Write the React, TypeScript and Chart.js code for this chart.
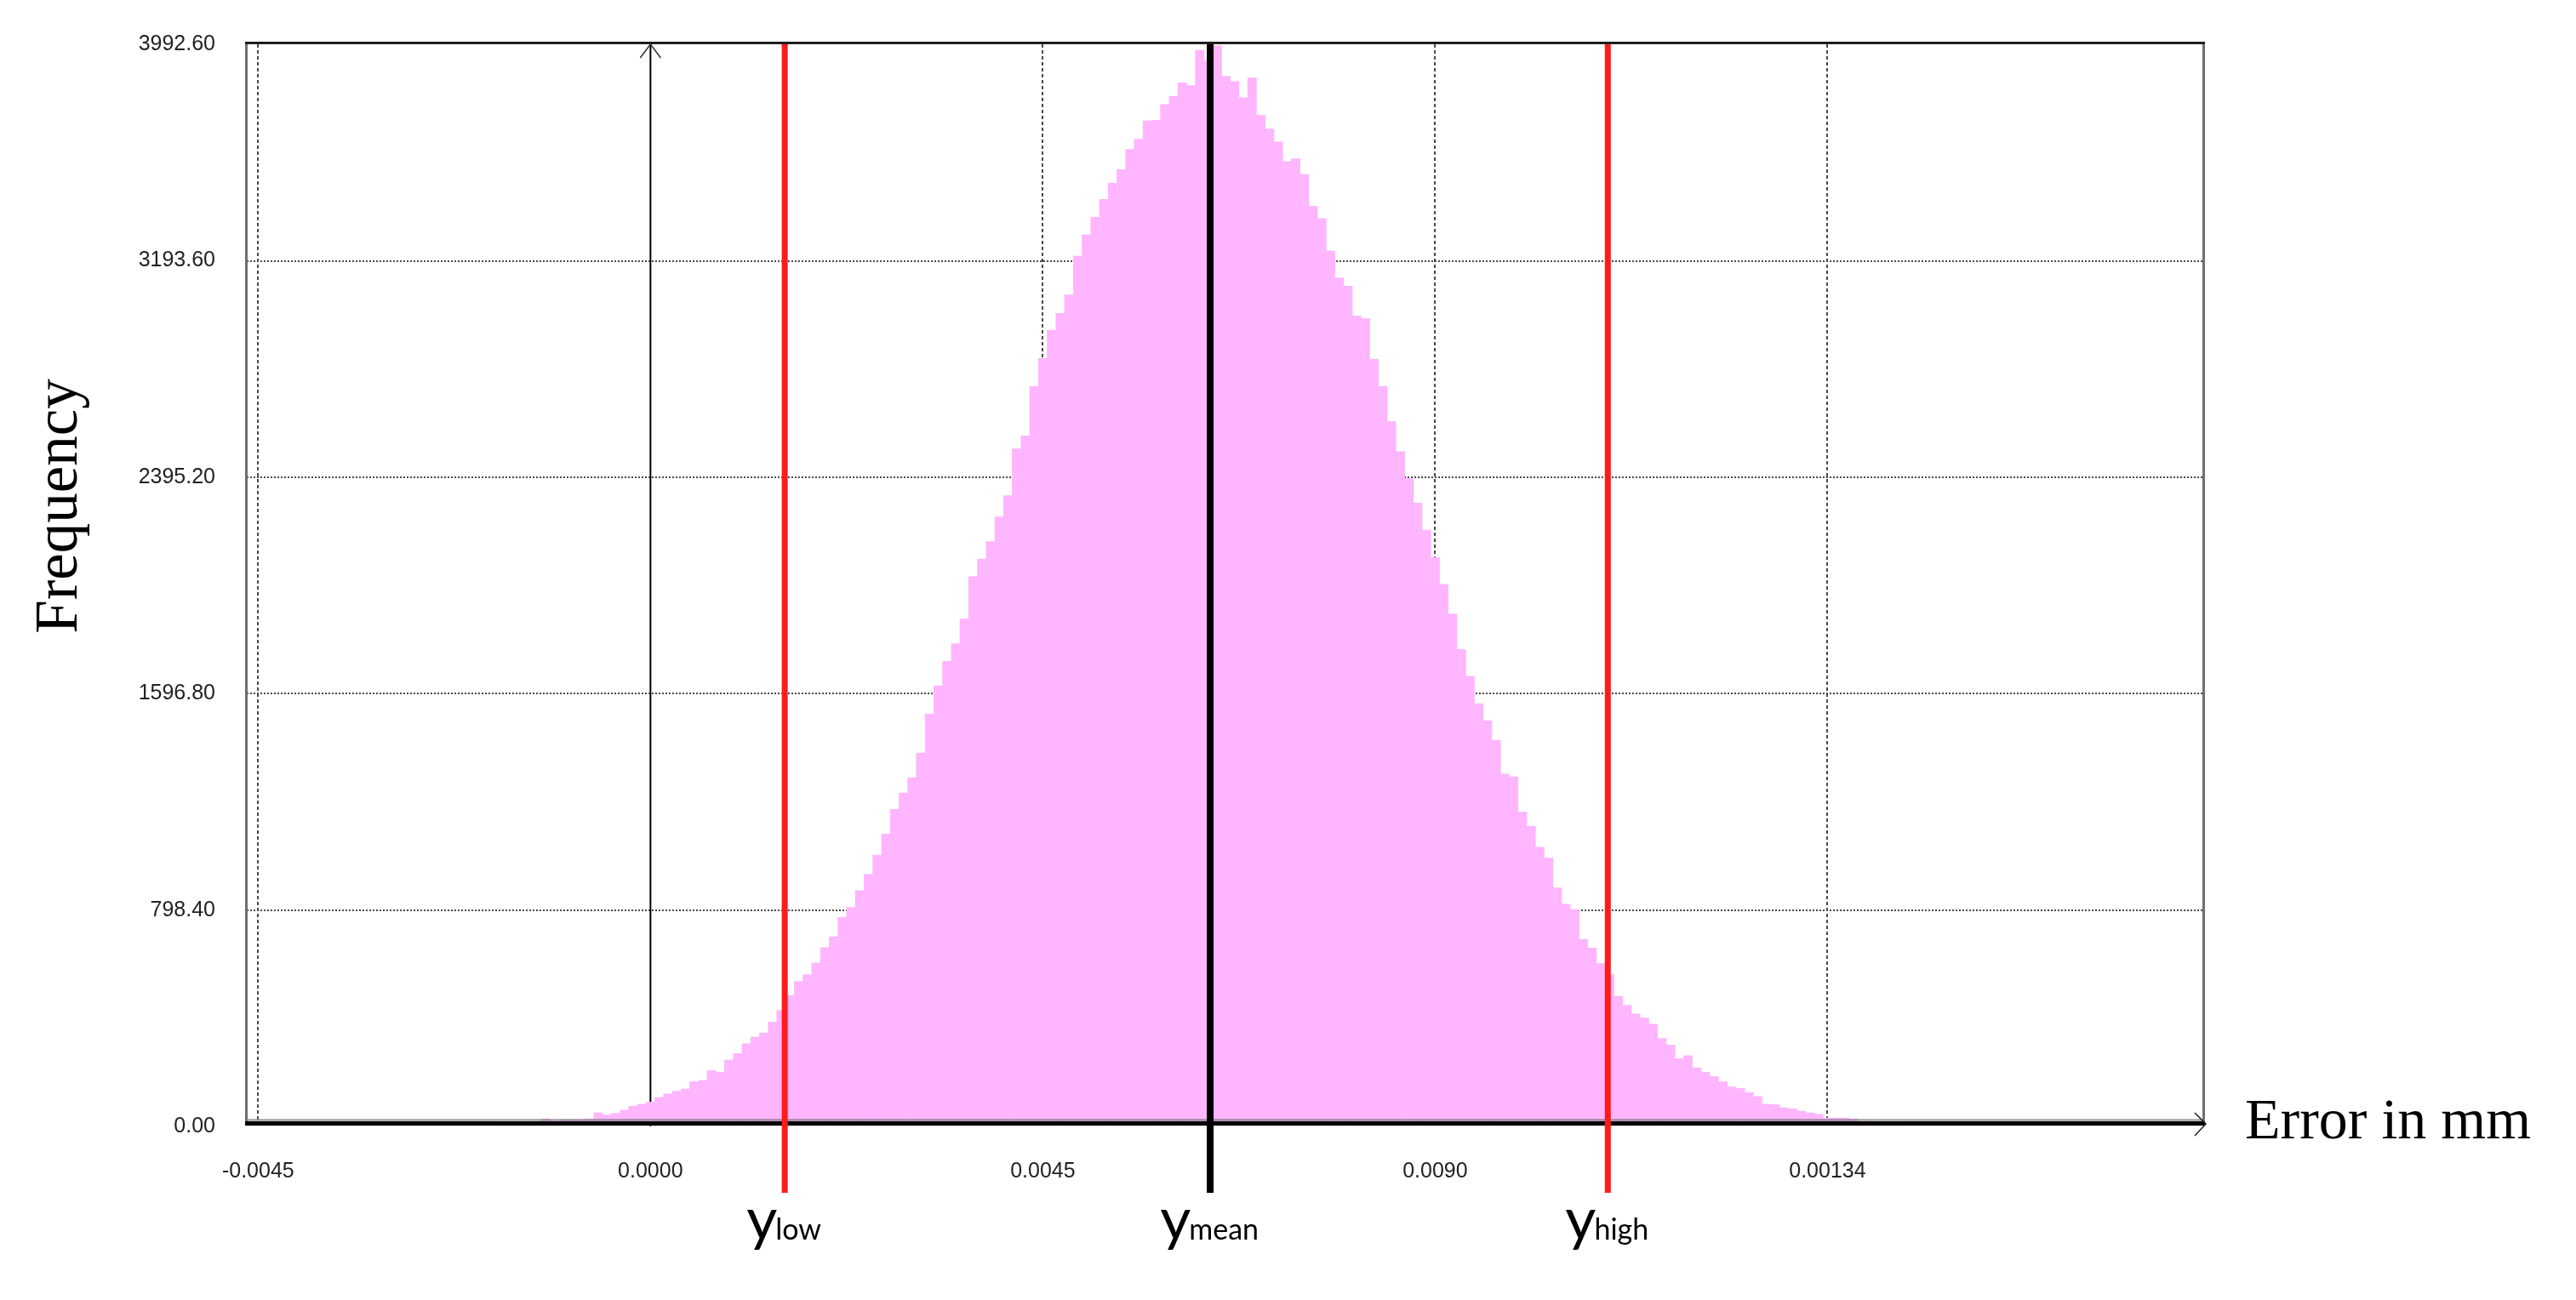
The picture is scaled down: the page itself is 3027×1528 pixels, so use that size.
import React, { useEffect, useRef } from 'react';
import { Chart, registerables } from 'chart.js';

Chart.register(...registerables);

// ---- data ----
const binStart = -0.0017; // centre of the first histogram bin (mm)
const binWidth = 0.0001; // histogram bin width (mm)

const freqTailLeft = [5, 15, 15, 8, 15, 28, 20, 25, 25, 25, 28, 50, 42, 48, 60, 75, 82];
const freqRise = [
  90, 107, 120, 130, 138, 165, 170, 206, 200, 245,
  269, 305, 330, 345, 385, 428, 483, 535, 560, 603,
  660, 700, 771, 808, 870, 930, 1001, 1079, 1170, 1230,
  1287, 1378, 1521, 1625, 1716, 1781, 1872, 2028, 2093, 2158,
];
const freqPeak = [
  2249, 2327, 2500, 2548, 2730, 2834, 2938, 3000, 3068, 3211,
  3289, 3354, 3420, 3480, 3530, 3605, 3642, 3710, 3712, 3770,
  3800, 3850, 3840, 3970, 3930, 3988, 3875, 3855, 3795, 3868,
  3730, 3680, 3632, 3560, 3570, 3512, 3395, 3350, 3230, 3130,
];
const freqFall = [
  3100, 2990, 2980, 2830, 2730, 2600, 2490, 2390, 2300, 2200,
  2100, 2000, 1890, 1760, 1660, 1560, 1497, 1425, 1300, 1290,
  1160, 1107, 1030, 990, 880, 820, 800, 690, 658, 601,
  560, 480, 447, 415, 400, 377, 325, 300, 250, 261,
];
const freqTailRight = [
  216, 200, 184, 165, 146, 140, 125, 110, 82, 80,
  69, 65, 56, 50, 45, 31, 31, 31, 28, 18,
  18, 12, 12, 10, 5,
];

const xMin = -0.00463;
const xMax = 0.01781;
const yMax = 3992.6;
const yTicks = [0, 798.4, 1596.8, 2395.2, 3193.6, 3992.6];
const xTicks = [-0.0045, 0, 0.0045, 0.009, 0.0135];
const xTickLabels = ['-0.0045', '0.0000', '0.0045', '0.0090', '0.00134'];

const markerValues = [0.00154, 0.00642, 0.01098];
const markerSubscripts = ['low', 'mean', 'high'];

const xTitle = 'Error in mm';
const yTitle = 'Frequency';

// ---- styles ----
const BAR_COLOR = '#FFB5FF';
const MARKER_COLORS = ['#ff1a1a', '#000000', '#ff1a1a'];
const MARKER_WIDTHS = [7, 8, 7];
const W = 3027;
const H = 1528;

const overlayPlugin = {
  id: 'overlay',
  beforeDatasetsDraw(chart: any) {
    const { ctx, chartArea: a, scales } = chart;
    const x0 = scales.x.getPixelForValue(0);
    ctx.save();
    ctx.strokeStyle = '#000';
    ctx.lineWidth = 2;
    ctx.beginPath();
    ctx.moveTo(x0, a.bottom);
    ctx.lineTo(x0, a.top);
    ctx.stroke();
    ctx.lineWidth = 1.5;
    ctx.strokeStyle = '#333';
    ctx.beginPath();
    ctx.moveTo(x0 - 12, a.top + 16);
    ctx.lineTo(x0, a.top);
    ctx.lineTo(x0 + 12, a.top + 16);
    ctx.stroke();
    ctx.restore();
  },
  afterDatasetsDraw(chart: any) {
    const { ctx, chartArea: a, scales } = chart;
    const xs = scales.x;
    ctx.save();
    // frame
    ctx.fillStyle = '#6e6e6e';
    ctx.fillRect(a.left - 2, a.top - 2, 3, a.bottom - a.top);
    ctx.fillRect(a.right - 1, a.top - 2, 3, a.bottom - a.top);
    ctx.fillStyle = '#1e1e1e';
    ctx.fillRect(a.left - 2, a.top - 3, a.right - a.left + 4, 3);
    // x axis
    ctx.fillStyle = 'rgba(110,110,110,0.55)';
    ctx.fillRect(a.left, a.bottom - 9, a.right - a.left, 3);
    ctx.fillStyle = '#000';
    ctx.fillRect(a.left - 2, a.bottom - 6, a.right - a.left + 4, 5);
    ctx.strokeStyle = '#222';
    ctx.lineWidth = 1.5;
    ctx.beginPath();
    ctx.moveTo(a.right - 10, a.bottom - 16);
    ctx.lineTo(a.right + 3, a.bottom - 3);
    ctx.lineTo(a.right - 10, a.bottom + 11);
    ctx.stroke();

    // marker lines + labels
    markerValues.forEach((v, i) => {
      const px = xs.getPixelForValue(v);
      const w = MARKER_WIDTHS[i];
      ctx.fillStyle = MARKER_COLORS[i];
      ctx.fillRect(px - w / 2, a.top, w, a.bottom + 78 - a.top);
      const bigFont = '70px Lato, "Open Sans", sans-serif';
      const smallFont = '34px Lato, "Open Sans", sans-serif';
      ctx.font = bigFont;
      const wy = ctx.measureText('y').width;
      ctx.font = smallFont;
      const ws = ctx.measureText(markerSubscripts[i]).width;
      const start = px - (wy + ws) / 2;
      const base = a.bottom + 133;
      ctx.fillStyle = '#000';
      ctx.textAlign = 'left';
      ctx.textBaseline = 'alphabetic';
      ctx.font = bigFont;
      ctx.fillText('y', start, base);
      ctx.font = smallFont;
      ctx.fillText(markerSubscripts[i], start + wy - 2, base);
    });

    // axis titles
    ctx.fillStyle = '#000';
    ctx.font = '68px "Liberation Serif", "Times New Roman", serif';
    ctx.textAlign = 'left';
    ctx.textBaseline = 'alphabetic';
    ctx.fillText(xTitle, a.right + 49, a.bottom + 14);

    ctx.translate(90, 595);
    ctx.rotate(-Math.PI / 2);
    ctx.font = '71px "Liberation Serif", "Times New Roman", serif';
    ctx.textAlign = 'center';
    ctx.fillText(yTitle, 0, 0);
    ctx.restore();
  },
};

export default function App() {
  const ref = useRef<HTMLCanvasElement | null>(null);

  useEffect(() => {
    document.body.style.margin = '0';
    document.body.style.overflow = 'hidden';
    const canvas = ref.current;
    if (!canvas) return;

    const freqs = [...freqTailLeft, ...freqRise, ...freqPeak, ...freqFall, ...freqTailRight];
    const points = freqs.map((f, i) => ({ x: binStart + i * binWidth, y: f }));

    const tickFont = { family: '"Liberation Sans", "DejaVu Sans", sans-serif', size: 25 };

    const chart = new Chart(canvas, {
      type: 'bar',
      data: {
        datasets: [
          {
            data: points as any,
            backgroundColor: BAR_COLOR,
            borderWidth: 0,
            barPercentage: 1,
            categoryPercentage: 1,
          },
        ],
      },
      options: {
        animation: false,
        responsive: false,
        devicePixelRatio: 1,
        layout: { padding: { left: 0, right: 438, top: 52, bottom: 0 } },
        plugins: {
          legend: { display: false },
          tooltip: { enabled: false },
        },
        scales: {
          x: {
            type: 'linear',
            min: xMin,
            max: xMax,
            offset: false,
            grid: {
              offset: false,
              drawTicks: false,
              lineWidth: 2,
              color: (c: any) => (c.tick && c.tick.value === 0 ? 'rgba(0,0,0,0)' : '#4a4a4a'),
            },
            border: { display: false, dash: [4, 3] },
            ticks: {
              autoSkip: false,
              maxRotation: 0,
              padding: 38,
              font: tickFont,
              color: '#222',
              callback: (_v: any, i: number) => xTickLabels[i],
            },
            afterBuildTicks: (s: any) => {
              s.ticks = xTicks.map((v) => ({ value: v }));
            },
            afterFit: (s: any) => {
              s.height = H - 1324;
            },
          },
          y: {
            type: 'linear',
            min: 0,
            max: yMax,
            grid: {
              drawTicks: false,
              lineWidth: 2,
              color: (c: any) =>
                c.tick && (c.tick.value === 0 || c.tick.value === yMax) ? 'rgba(0,0,0,0)' : '#4a4a4a',
            },
            border: { display: false, dash: [2, 2] },
            ticks: {
              autoSkip: false,
              padding: 37,
              font: tickFont,
              color: '#222',
              callback: (v: any) => Number(v).toFixed(2),
            },
            afterBuildTicks: (s: any) => {
              s.ticks = yTicks.map((v) => ({ value: v }));
            },
            afterFit: (s: any) => {
              s.width = 290;
            },
          },
        },
      } as any,
      plugins: [overlayPlugin],
    });

    return () => chart.destroy();
  }, []);

  return (
    <div style={{ width: W, height: H }}>
      <canvas ref={ref} width={W} height={H} style={{ display: 'block', width: W, height: H }} />
    </div>
  );
}
